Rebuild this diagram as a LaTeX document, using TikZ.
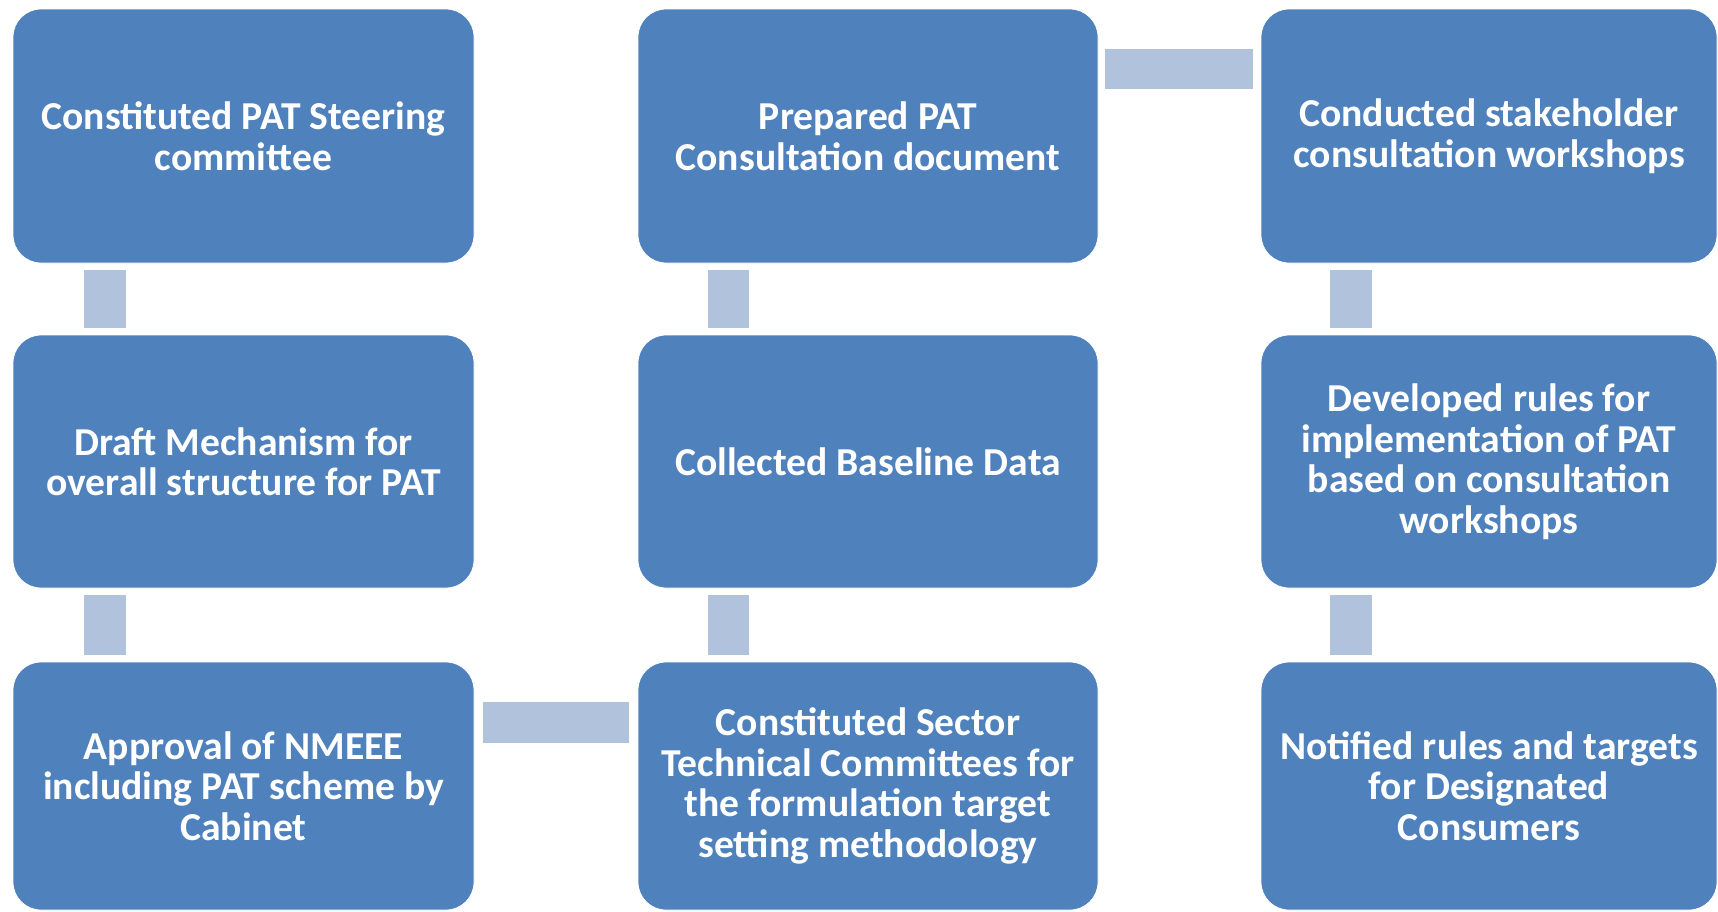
\documentclass[tikz,border=0pt]{standalone}
\usepackage{fontspec}
\setmainfont{Carlito}
\definecolor{boxblue}{RGB}{79,129,189}
\definecolor{barblue}{RGB}{177,194,221}
\begin{document}
\begin{tikzpicture}[x=1pt,y=-1pt,
  stepbox/.style={rectangle, rounded corners=28pt, fill=boxblue, draw=white, line width=0.8pt,
    text=white, align=center, inner sep=0pt,
    font=\fontsize{39.6}{40.5}\selectfont\bfseries},
  bar/.style={fill=barblue}]
\useasboundingbox (0,0) rectangle (1718,911);
\fill[white] (0,0) rectangle (1718,911);

% first column
\node[stepbox, minimum width=461pt, minimum height=254pt] (b11) at (243.5,136)
  {Constituted PAT Steering\\committee};
\node[stepbox, minimum width=461pt, minimum height=253pt] (b21) at (243.5,461.5)
  {Draft Mechanism for\\overall structure for PAT};
\node[stepbox, minimum width=461pt, minimum height=248pt] (b31) at (243.5,786)
  {Approval of NMEEE\\including PAT scheme by\\Cabinet};

% second column
\node[stepbox, minimum width=460pt, minimum height=254pt] (b12) at (868,136)
  {Prepared PAT\\Consultation document};
\node[stepbox, minimum width=460pt, minimum height=253pt] (b22) at (868,461.5)
  {Collected Baseline Data};
\node[stepbox, minimum width=460pt, minimum height=248pt] (b32) at (868,786)
  {Constituted Sector\\Technical Committees for\\the formulation target\\setting methodology};

% third column
\node[stepbox, minimum width=456pt, minimum height=254pt] (b13) at (1489,136)
  {Conducted stakeholder\\consultation workshops};
\node[stepbox, minimum width=456pt, minimum height=253pt] (b23) at (1489,461.5)
  {Developed rules for\\implementation of PAT\\based on consultation\\workshops};
\node[stepbox, minimum width=456pt, minimum height=248pt] (b33) at (1489,786)
  {Notified rules and targets\\for Designated\\Consumers};

% connectors: down column 1, across, up column 2, across, down column 3
\fill[bar] ([shift={(71,7)}]b11.south west) rectangle ([shift={(113,-7)}]b21.north west);
\fill[bar] ([shift={(71,7)}]b21.south west) rectangle ([shift={(113,-7)}]b31.north west);
\fill[bar] ([shift={(9,40)}]b31.north east) rectangle ([shift={(-9,81)}]b32.north west);
\fill[bar] ([shift={(70,7)}]b22.south west) rectangle ([shift={(111,-7)}]b32.north west);
\fill[bar] ([shift={(70,7)}]b12.south west) rectangle ([shift={(111,-7)}]b22.north west);
\fill[bar] ([shift={(7,40)}]b12.north east) rectangle ([shift={(-8,80)}]b13.north west);
\fill[bar] ([shift={(69,7)}]b13.south west) rectangle ([shift={(111,-7)}]b23.north west);
\fill[bar] ([shift={(69,7)}]b23.south west) rectangle ([shift={(111,-7)}]b33.north west);
\end{tikzpicture}
\end{document}
